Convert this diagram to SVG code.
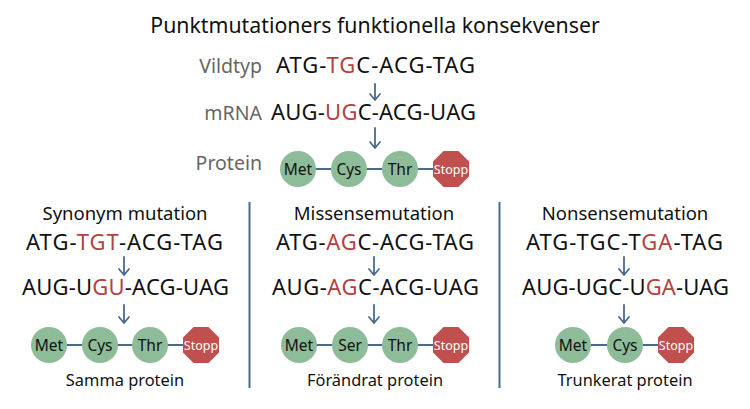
<svg xmlns="http://www.w3.org/2000/svg" width="750" height="409" viewBox="0 0 750 409">
<style>
text{font-family:"Noto Sans","Open Sans","Liberation Sans",sans-serif;fill:#111}
.title{font-size:21.3px}
.lbl{font-size:19.5px;fill:#666;text-anchor:end}
.seq{font-size:22px}
.r{fill:#b5403f}
.sec{font-size:18.5px;text-anchor:middle}
.cap{font-size:16.4px;text-anchor:middle}
.aa{fill:#8fbc98}
.aat{font-size:15.5px;text-anchor:middle}
.stop{fill:#c0504e}
.stopt{font-size:12.5px;text-anchor:middle;fill:#fff}
.arr{fill:none;stroke:#4a6a8c;stroke-width:1.8;stroke-linecap:round;stroke-linejoin:round}
.chain{stroke:#4a6a8c;stroke-width:2}
.div{stroke:#4a6a8c;stroke-width:2}
</style>
<defs>
<polygon id="oct" points="7.46,-18 18,-7.46 18,7.46 7.46,18 -7.46,18 -18,7.46 -18,-7.46 -7.46,-18"/>
</defs>
<rect width="750" height="409" fill="#fff"/>
<text class="title" x="375" y="33" text-anchor="middle">Punktmutationers funktionella konsekvenser</text>

<g id="connectors">
<path class="arr" d="M375 84V100M370 94L375 100L380 94"/>
<path class="arr" d="M375 128V148M370 142L375 148L380 142"/>
<line class="chain" x1="298" y1="169" x2="451" y2="169"/>
<path class="arr" d="M124 257V275M119 269L124 275L129 269"/>
<path class="arr" d="M124 305V323M119 317L124 323L129 317"/>
<line class="chain" x1="49" y1="345" x2="201" y2="345"/>
<path class="arr" d="M374 257V275M369 269L374 275L379 269"/>
<path class="arr" d="M374 305V323M369 317L374 323L379 317"/>
<line class="chain" x1="299" y1="345" x2="451" y2="345"/>
<path class="arr" d="M624 257V275M619 269L624 275L629 269"/>
<path class="arr" d="M624 305V323M619 317L624 323L629 317"/>
<line class="chain" x1="573" y1="345" x2="676" y2="345"/>
</g>

<g id="dividers">
<line class="div" x1="249.5" y1="202" x2="249.5" y2="388"/>
<line class="div" x1="499.5" y1="202" x2="499.5" y2="388"/>
</g>

<g id="wildtype">
<text class="lbl" x="262" y="73">Vildtyp</text>
<text class="seq" x="276" y="73" textLength="199" lengthAdjust="spacing">ATG-<tspan class="r">TG</tspan>C-ACG-TAG</text>
<text class="lbl" x="262" y="120">mRNA</text>
<text class="seq" x="271" y="120" textLength="205" lengthAdjust="spacing">AUG-<tspan class="r">UG</tspan>C-ACG-UAG</text>
<text class="lbl" x="262" y="170">Protein</text>
<g id="w-met"><circle class="aa" cx="298" cy="169" r="18"/><text class="aat" x="298" y="174.5">Met</text></g>
<g id="w-cys"><circle class="aa" cx="349" cy="169" r="18"/><text class="aat" x="349" y="174.5">Cys</text></g>
<g id="w-thr"><circle class="aa" cx="400" cy="169" r="18"/><text class="aat" x="400" y="174.5">Thr</text></g>
<g id="w-stop"><use href="#oct" class="stop" x="451" y="169"/><text class="stopt" x="451" y="173.5">Stopp</text></g>
</g>

<g id="synonym">
<text class="sec" x="125" y="220">Synonym mutation</text>
<text class="seq" x="26" y="250" textLength="197" lengthAdjust="spacing">ATG-<tspan class="r">TGT</tspan>-ACG-TAG</text>
<text class="seq" x="22" y="295" textLength="207" lengthAdjust="spacing">AUG-U<tspan class="r">GU</tspan>-ACG-UAG</text>
<g id="s-met"><circle class="aa" cx="49" cy="345" r="18"/><text class="aat" x="49" y="350.5">Met</text></g>
<g id="s-cys"><circle class="aa" cx="100" cy="345" r="18"/><text class="aat" x="100" y="350.5">Cys</text></g>
<g id="s-thr"><circle class="aa" cx="150" cy="345" r="18"/><text class="aat" x="150" y="350.5">Thr</text></g>
<g id="s-stop"><use href="#oct" class="stop" x="201" y="345"/><text class="stopt" x="201" y="349.5">Stopp</text></g>
<text class="cap" x="125" y="386">Samma protein</text>
</g>

<g id="missense">
<text class="sec" x="374" y="220">Missensemutation</text>
<text class="seq" x="276" y="250" textLength="198" lengthAdjust="spacing">ATG-<tspan class="r">AG</tspan>C-ACG-TAG</text>
<text class="seq" x="272" y="295" textLength="207" lengthAdjust="spacing">AUG-<tspan class="r">AG</tspan>C-ACG-UAG</text>
<g id="m-met"><circle class="aa" cx="299" cy="345" r="18"/><text class="aat" x="299" y="350.5">Met</text></g>
<g id="m-ser"><circle class="aa" cx="350" cy="345" r="18"/><text class="aat" x="350" y="350.5">Ser</text></g>
<g id="m-thr"><circle class="aa" cx="400" cy="345" r="18"/><text class="aat" x="400" y="350.5">Thr</text></g>
<g id="m-stop"><use href="#oct" class="stop" x="451" y="345"/><text class="stopt" x="451" y="349.5">Stopp</text></g>
<text class="cap" x="375" y="386">Förändrat protein</text>
</g>

<g id="nonsense">
<text class="sec" x="625" y="220">Nonsensemutation</text>
<text class="seq" x="526" y="250" textLength="197" lengthAdjust="spacing">ATG-TGC-T<tspan class="r">GA</tspan>-TAG</text>
<text class="seq" x="522" y="295" textLength="207" lengthAdjust="spacing">AUG-UGC-U<tspan class="r">GA</tspan>-UAG</text>
<g id="n-met"><circle class="aa" cx="573" cy="345" r="18"/><text class="aat" x="573" y="350.5">Met</text></g>
<g id="n-cys"><circle class="aa" cx="625" cy="345" r="18"/><text class="aat" x="625" y="350.5">Cys</text></g>
<g id="n-stop"><use href="#oct" class="stop" x="676" y="345"/><text class="stopt" x="676" y="349.5">Stopp</text></g>
<text class="cap" x="625" y="386">Trunkerat protein</text>
</g>
</svg>
